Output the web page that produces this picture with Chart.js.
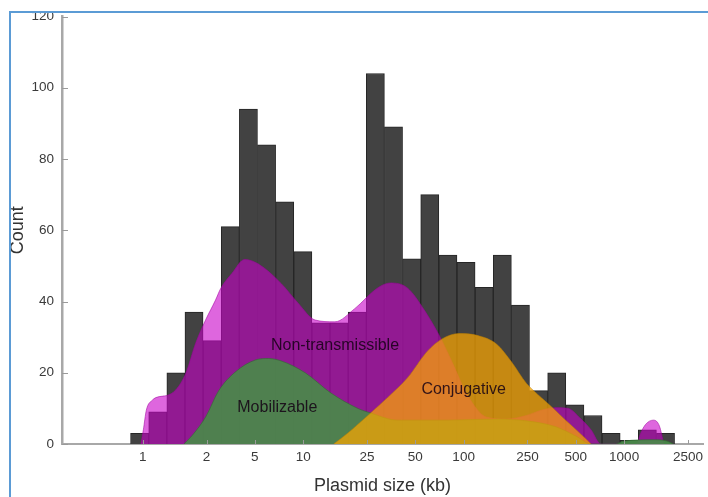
<!DOCTYPE html>
<html>
<head>
<meta charset="utf-8">
<script src="https://cdn.jsdelivr.net/npm/chart.js@4.4.1/dist/chart.umd.min.js"></script>
<style>
  html, body { margin: 0; padding: 0; background: #ffffff; }
  #wrap { position: relative; width: 708px; height: 497px; overflow: hidden; }
  #frame { position: absolute; left: 9px; top: 11px; width: 720px; height: 500px;
           border-left: 2px solid #5b9bd5; border-top: 2px solid #5b9bd5; pointer-events: none; }
  canvas { position: absolute; left: 0; top: 0; }
</style>
</head>
<body>
<div id="wrap">
  <canvas id="c" width="708" height="497"></canvas>
  <div id="frame"></div>
</div>
<script>
// ---- Histogram (total plasmids), bins of equal log width ----
const binCenters = [0.957, 1.242, 1.611, 2.089, 2.710, 3.516, 4.560, 5.916, 7.674, 9.954,
                    12.91, 16.75, 21.73, 28.18, 36.56, 47.42, 61.52, 79.80, 103.5, 134.3,
                    174.2, 225.9, 293.1, 380.2, 493.3, 639.7, 829.8, 1076, 1396, 1811];
const totalCounts = [3, 9, 20, 37, 29, 61, 94, 84, 68, 54,
                     34, 34, 37, 104, 89, 52, 70, 53, 51, 44,
                     53, 39, 15, 20, 11, 8, 3, 1, 4, 3];

// ---- Density curves (scaled to counts) ----
const nonTransX = [0.975, 1.01, 1.054, 1.148, 1.268, 1.415, 1.609, 1.855, 2.139, 2.466,
                   2.844, 3.067, 3.603, 4.316, 5.268, 7.311, 9.314, 11.86, 15.77, 20.97,
                   29.10, 35.02, 44.61, 56.83, 71.37, 84.65, 104.8, 139.4, 185.3, 246.3,
                   305.0, 377.6, 448.0, 539.0, 621.5, 716.6, 1196, 1267, 1360, 1524, 1661, 1766];
const nonTransY = [0, 4, 9.5, 12.3, 13.3, 13.6, 15.2, 19.8, 28.3, 34.8,
                   40.4, 43.7, 47.9, 51.8, 50.5, 45, 39.5, 34.8, 34.3, 38,
                   43.8, 45.2, 43.8, 37.6, 30, 23, 14, 7.5, 7, 8,
                   9.5, 10.2, 10, 7, 4, 0, 0, 3, 5.5, 6.7, 5, 0];

const mobX = [1.811, 2.088, 2.477, 2.981, 3.797, 5.050, 6.075, 7.311, 10.29, 14.90,
              21.89, 26.34, 38.68, 78.84, 160.7, 246.3, 377.6, 502.1, 621.5, 887,
              988.8, 1567, 1858, 2024];
const mobY = [0, 3, 7.7, 15, 20.3, 23.6, 24, 23.3, 20, 14.3,
              10, 8.7, 6.7, 6.7, 7, 6.5, 4.8, 2.2, 0, 0,
              0.8, 1.2, 0.8, 0];

const conjX = [15.50, 18.92, 26.34, 33.56, 44.61, 59.31, 73.41, 93.54, 120.9, 160.7,
               198.9, 246.3, 305.0, 361.8, 435.5, 502.1, 621.5];
const conjY = [0, 3, 8.7, 13, 18.5, 26, 29.5, 31, 30.5, 28,
               23, 17, 13, 10, 6.5, 4, 0];

// ---- Axis ticks ----
const tickValues = [1, 2.5, 5, 10, 25, 50, 100, 250, 500, 1000, 2500];
const tickLabels = ['1', '2', '5', '10', '25', '50', '100', '250', '500', '1000', '2500'];
const yTickValues = [0, 20, 40, 60, 80, 100, 120];

// ---- In-plot labels (data coordinates) ----
const regionLabels = ['Non-transmissible', 'Mobilizable', 'Conjugative'];
const regionLabelX = [15.8, 6.9, 100];
const regionLabelY = [27.5, 10.1, 15.4];

const FONT = "'Liberation Sans', Arial, Helvetica, sans-serif";

function pts(xs, ys) { return xs.map((x, i) => ({ x: x, y: ys[i] })); }

const innerTicks = {
  id: 'innerTicks',
  afterDraw(chart) {
    const { ctx, scales: { x, y } } = chart;
    ctx.save();
    ctx.strokeStyle = '#9a9a9a';
    ctx.lineWidth = 1;
    const xl = x.left, yb = y.bottom;
    yTickValues.forEach(v => {
      const py = Math.round(y.getPixelForValue(v)) + 0.5;
      ctx.beginPath(); ctx.moveTo(xl, py); ctx.lineTo(xl + 6, py); ctx.stroke();
    });
    tickValues.forEach(v => {
      const px = Math.round(x.getPixelForValue(v)) + 0.5;
      ctx.beginPath(); ctx.moveTo(px, yb); ctx.lineTo(px, yb - 4); ctx.stroke();
    });
    ctx.restore();
  }
};

const regionText = {
  id: 'regionText',
  afterDatasetsDraw(chart) {
    const { ctx, scales: { x, y } } = chart;
    ctx.save();
    ctx.font = '16px ' + FONT;
    ctx.fillStyle = 'rgba(20,0,20,0.85)';
    ctx.textAlign = 'center';
    ctx.textBaseline = 'middle';
    regionLabels.forEach((t, i) => {
      ctx.fillText(t, x.getPixelForValue(regionLabelX[i]), y.getPixelForValue(regionLabelY[i]));
    });
    ctx.restore();
  }
};

new Chart(document.getElementById('c'), {
  type: 'bar',
  data: {
    datasets: [
      {
        type: 'bar',
        label: 'All plasmids',
        data: pts(binCenters, totalCounts),
        backgroundColor: '#424242',
        borderColor: '#262626',
        borderWidth: 1,
        barPercentage: 1,
        categoryPercentage: 1,
        order: 4
      },
      {
        type: 'line',
        label: 'Non-transmissible',
        data: pts(nonTransX, nonTransY),
        backgroundColor: 'rgba(200,0,200,0.6)',
        borderColor: 'rgba(160,0,160,0.7)',
        borderWidth: 0.8,
        pointRadius: 0,
        fill: 'origin',
        cubicInterpolationMode: 'monotone',
        order: 3
      },
      {
        type: 'line',
        label: 'Mobilizable',
        data: pts(mobX, mobY),
        backgroundColor: 'rgba(72,140,72,0.9)',
        borderColor: 'rgba(50,110,50,0.8)',
        borderWidth: 0.8,
        pointRadius: 0,
        fill: 'origin',
        cubicInterpolationMode: 'monotone',
        order: 2
      },
      {
        type: 'line',
        label: 'Conjugative',
        data: pts(conjX, conjY),
        backgroundColor: 'rgba(250,165,0,0.72)',
        borderColor: 'rgba(190,130,0,0.7)',
        borderWidth: 0.8,
        pointRadius: 0,
        fill: 'origin',
        cubicInterpolationMode: 'monotone',
        order: 1
      }
    ]
  },
  options: {
    responsive: false,
    animation: false,
    devicePixelRatio: 1,
    layout: { padding: { top: 16.5, right: 0, bottom: 0, left: 0 } },
    plugins: { legend: { display: false }, tooltip: { enabled: false } },
    scales: {
      x: {
        type: 'logarithmic',
        min: 0.3143,
        max: 3106,
        bounds: 'data',
        offset: false,
        grid: { display: false, drawTicks: false },
        border: { display: true, color: '#a8a8a8', width: 2 },
        afterBuildTicks: (scale) => { scale.ticks = tickValues.map(v => ({ value: v })); },
        afterFit: (scale) => { scale.height = 53; },
        ticks: {
          autoSkip: false,
          maxRotation: 0,
          padding: 5,
          color: '#3a3a3a',
          font: { family: FONT, size: 13.5 },
          callback: (v, i) => tickLabels[i]
        },
        title: {
          display: true,
          text: 'Plasmid size (kb)',
          color: '#333333',
          font: { family: FONT, size: 18 },
          padding: { top: 0, bottom: 0 }
        }
      },
      y: {
        type: 'linear',
        min: 0,
        max: 120,
        grid: { display: false, drawTicks: false },
        border: { display: true, color: '#a8a8a8', width: 2.5 },
        afterFit: (scale) => { scale.width = 62; },
        ticks: {
          stepSize: 20,
          padding: 8,
          color: '#3a3a3a',
          font: { family: FONT, size: 13.5 }
        },
        title: {
          display: true,
          text: 'Count',
          color: '#333333',
          font: { family: FONT, size: 18 },
          padding: { top: 7, bottom: 0 }
        }
      }
    }
  },
  plugins: [regionText, innerTicks]
});
</script>
</body>
</html>
